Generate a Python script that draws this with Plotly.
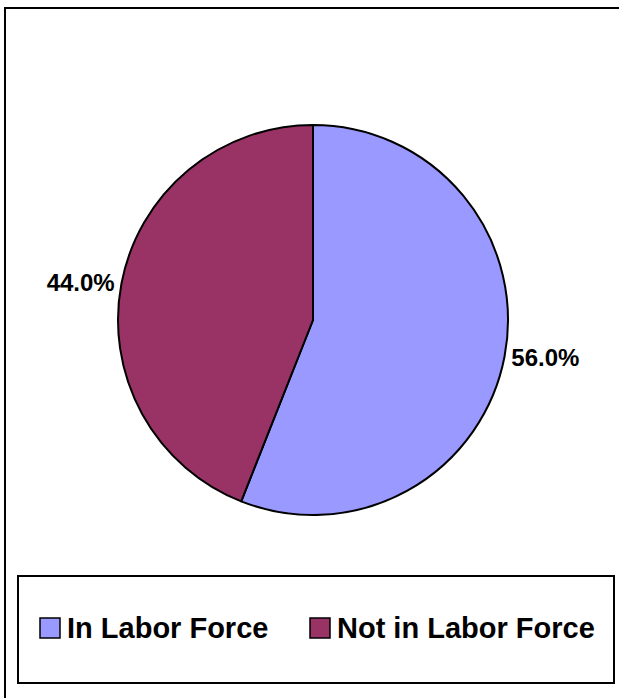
import plotly.graph_objects as go

# Labor force participation split
categories = ["In Labor Force", "Not in Labor Force"]
shares = [56.0, 44.0]
colors = ["#9999FF", "#993366"]

W, H = 619, 698
FONT = "Arial, Liberation Sans, sans-serif"


def px_x(x):
    return x / W


def px_y(y):
    return 1 - y / H


fig = go.Figure()

fig.add_trace(go.Pie(
    labels=categories,
    values=shares,
    sort=False,
    direction="clockwise",
    rotation=0,
    marker=dict(colors=colors, line=dict(color="black", width=2)),
    textposition="outside",
    texttemplate="%{percent:.1%}",
    textfont=dict(family=FONT, size=24, color="black", weight="bold"),
    domain=dict(x=[px_x(118), px_x(508)], y=[px_y(515), px_y(125)]),
    showlegend=False,
    hoverinfo="label+percent",
))

shapes = [
    # chart area frame
    dict(type="rect", xref="paper", yref="paper",
         x0=px_x(5), x1=px_x(630), y0=px_y(710), y1=px_y(8),
         line=dict(color="black", width=2), fillcolor="rgba(0,0,0,0)"),
    # legend frame
    dict(type="rect", xref="paper", yref="paper",
         x0=px_x(18), x1=px_x(614), y0=px_y(683), y1=px_y(576),
         line=dict(color="black", width=2), fillcolor="white"),
]

annotations = []
swatch_x = [40, 310]
for name, col, sx in zip(categories, colors, swatch_x):
    shapes.append(dict(type="rect", xref="paper", yref="paper",
                       x0=px_x(sx), x1=px_x(sx + 20), y0=px_y(638), y1=px_y(618),
                       line=dict(color="black", width=1.5), fillcolor=col))
    annotations.append(dict(xref="paper", yref="paper", x=px_x(sx + 25), y=px_y(628),
                            xanchor="left", yanchor="middle", showarrow=False,
                            text="<b>%s</b>" % name,
                            font=dict(family=FONT, size=29, color="black")))

fig.update_layout(
    width=W, height=H,
    margin=dict(l=0, r=0, t=0, b=0),
    paper_bgcolor="white",
    plot_bgcolor="white",
    shapes=shapes,
    annotations=annotations,
)

fig.write_html("out.html")
